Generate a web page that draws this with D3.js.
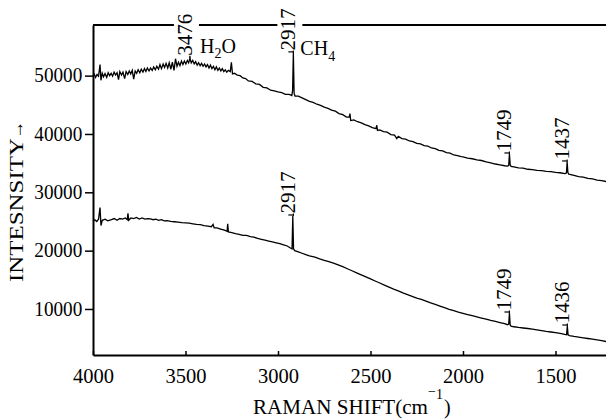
<!DOCTYPE html>
<html><head><meta charset="utf-8">
<script src="https://cdn.jsdelivr.net/npm/d3@7"></script>
<style>
html,body{margin:0;padding:0;background:#fff;}
svg{display:block;}
text{font-family:"Liberation Serif","DejaVu Serif",serif;fill:#000;}
</style>
</head><body>
<svg id="c" width="606" height="419" font-family="Liberation Serif, DejaVu Serif, serif"></svg>
<script>
const xTicks = [4000, 3500, 3000, 2500, 2000, 1500];
const yTicks = [10000, 20000, 30000, 40000, 50000];

const upper = [
[4000,49900],[3993,50250],[3986,49700],[3978,50200],[3970,49900],[3962,51900],[3957,49200],[3950,50400],[3943,49800],
[3935,50350],[3926,49700],[3918,50500],[3910,50000],[3902,50400],[3894,49900],[3886,50600],[3878,50100],[3870,50500],[3862,49300],
[3855,50700],[3846,50100],[3838,50600],[3829,49500],[3821,50700],[3812,50200],[3804,50800],[3796,50300],[3788,50900],[3780,49400],
[3772,50800],[3764,50400],[3756,51000],[3747,50500],[3739,51100],[3730,50600],[3722,51200],[3714,50700],[3706,51300],[3697,50800],
[3689,51300],[3680,50900],[3672,51500],[3663,51000],[3655,51600],[3646,51100],[3638,51900],[3630,51200],[3621,52000],[3613,51400],
[3605,52100],[3596,51300],[3588,52200],[3579,51100],[3571,52300],[3562,50900],[3554,52900],[3546,51600],[3538,52300],
[3530,51700],[3522,52500],[3514,51900],[3506,52500],[3498,52000],[3490,52600],[3483,52200],[3476,53000],[3469,52200],
[3461,52600],[3453,52000],[3445,52400],[3437,51800],[3429,52200],[3421,51700],[3413,52100],[3405,51600],[3397,52000],
[3389,51500],[3381,51900],[3373,51300],[3365,51800],[3357,51200],[3349,51600],[3341,51000],[3333,51500],[3325,50900],
[3317,51300],[3309,50800],[3301,51200],[3293,50700],[3285,51000],[3277,50600],[3268,50900],[3258,50700],[3252,52300],[3246,50300],[3235,50400],
[3220,50100],[3205,50000],[3190,49600],[3175,49500],[3160,49100],[3140,49000],[3120,48600],[3100,48500],[3080,48000],
[3060,47900],[3040,47500],[3020,47400],[3000,47200],[2980,47100],[2960,46800],[2940,46800],[2925,46600],
[2921,47500],[2917,53900],[2913,47000],[2908,46500],[2890,46500],[2870,46200],[2850,45900],[2830,45600],
[2810,45400],[2790,45100],[2770,44900],[2750,44600],[2730,44400],[2710,44100],[2690,43900],[2670,43500],
[2650,43300],[2630,42900],[2615,42900],[2611,43500],[2607,42300],[2590,42400],[2570,42100],[2550,41900],
[2530,41600],[2510,41400],[2490,41100],[2470,40900],[2466,41500],[2462,40600],[2450,40700],[2430,40400],
[2410,40300],[2390,39900],[2370,39800],[2358,39200],[2350,39600],[2330,39200],[2310,39100],[2290,38800],
[2270,38700],[2250,38400],[2230,38300],[2210,38000],[2190,37900],[2170,37600],[2150,37500],[2130,37200],
[2110,37100],[2090,36800],[2070,36700],[2050,36400],[2030,36300],[2010,36100],[2000,36090],[1975,35850],
[1950,35750],[1925,35550],[1900,35450],[1875,35200],[1850,35050],[1825,34850],[1800,34700],[1775,34550],
[1760,34500],[1753,34600],[1749,36570],[1745,34700],[1740,34450],[1725,34350],[1700,34200],[1675,34150],
[1650,33950],[1625,33900],[1600,33750],[1575,33700],[1550,33600],[1525,33550],[1500,33400],[1475,33350],
[1450,33200],[1441,33300],[1437,35200],[1433,33400],[1428,33100],[1400,32900],[1375,32700],[1350,32600],
[1325,32400],[1300,32300],[1275,32100],[1250,32000],[1227,31850]
];

const lower = [
[4000,25100],[3990,25300],[3980,25000],[3970,25400],[3962,27400],[3957,24300],[3950,25200],[3935,25400],
[3920,25100],[3900,25300],[3885,25500],[3870,25200],[3855,25500],[3840,25400],[3825,25600],[3815,25300],
[3811,26400],[3807,25200],[3795,25600],[3780,25500],[3765,25700],[3750,25400],[3735,25600],[3720,25400],
[3705,25500],[3690,25450],[3675,25300],[3660,25400],[3645,25200],[3630,25300],[3615,25100],[3600,25150],
[3580,25000],[3560,24950],[3540,24900],[3520,24800],[3500,24750],[3480,24700],[3460,24600],[3440,24500],
[3420,24450],[3400,24300],[3380,24200],[3360,24100],[3351,24500],[3345,23900],[3330,23900],[3310,23700],
[3290,23500],[3275,23300],[3272,24600],[3268,23200],[3250,23100],[3230,22900],[3210,22800],[3190,22600],
[3170,22600],[3150,22400],[3130,22300],[3110,22100],[3090,21950],[3070,21800],[3050,21650],[3030,21500],
[3010,21350],[2990,21200],[2970,21000],[2950,20800],[2935,20500],[2924,20300],[2920,25940],[2916,20300],
[2910,20000],[2890,19800],[2870,19550],[2850,19300],[2830,19100],[2800,18890],[2775,18600],[2750,18350],
[2725,18100],[2700,17860],[2675,17550],[2650,17250],[2625,16900],[2600,16550],[2575,16200],[2550,15850],
[2525,15500],[2500,15150],[2475,14800],[2450,14450],[2425,14100],[2400,13750],[2375,13400],[2350,13100],
[2325,12750],[2300,12450],[2275,12150],[2250,11850],[2225,11650],[2200,11350],[2175,11050],[2150,10780],
[2125,10500],[2100,10220],[2075,9950],[2050,9700],[2025,9450],[2000,9250],[1975,9050],[1950,8850],
[1925,8650],[1900,8450],[1875,8250],[1850,8050],[1825,7870],[1800,7680],[1775,7500],[1760,7300],
[1753,7400],[1749,9310],[1745,7250],[1740,7050],[1725,6950],[1700,6830],[1675,6740],[1650,6650],
[1625,6560],[1600,6420],[1575,6280],[1550,6150],[1525,6050],[1500,5950],[1475,5800],[1450,5650],
[1440,5600],[1436,7080],[1432,5550],[1425,5450],[1400,5290],[1375,5170],[1350,5050],[1325,4940],
[1300,4830],[1275,4700],[1250,4560],[1227,4420]
];

const upperPeaks = [3476, 2917, 1749, 1437];
const upperPeakLabels = ["3476", "2917", "1749", "1437"];
const lowerPeaks = [2917, 1749, 1436];
const lowerPeakLabels = ["2917", "1749", "1436"];

const svg = d3.select("#c");
const L = 93, R = 606, T = 25, B = 355;
const x = d3.scaleLinear().domain([4000, 1227]).range([L, R]);
const y = d3.scaleLinear().domain([2110, 58680]).range([B, T]);
const FONT = "Liberation Serif, DejaVu Serif, serif";

// top border
svg.append("line").attr("x1", L).attr("x2", R).attr("y1", T).attr("y2", T)
  .attr("stroke", "#000").attr("stroke-width", 2);

// axes
const gx = svg.append("g").attr("transform", `translate(0,${B})`)
  .call(d3.axisBottom(x).tickValues(xTicks).tickSizeInner(-4).tickSizeOuter(0).tickFormat(d3.format("d")));
gx.attr("font-family", FONT).attr("font-size", null);
gx.select(".domain").attr("stroke-width", 2);
gx.selectAll(".tick line").attr("stroke-width", 1.5);
gx.selectAll(".tick text").attr("y", 27.7).attr("dy", null)
  .style("font-size", "21px").attr("textLength", 41).attr("lengthAdjust", "spacingAndGlyphs");

const gy = svg.append("g").attr("transform", `translate(${L},0)`)
  .call(d3.axisLeft(y).tickValues(yTicks).tickSizeInner(8).tickSizeOuter(0).tickFormat(d3.format("d")));
gy.attr("font-family", FONT).attr("font-size", null);
gy.select(".domain").attr("stroke-width", 2);
gy.selectAll(".tick line").attr("stroke-width", 1.5);
gy.selectAll(".tick text").attr("x", -10.7).attr("y", 6.3).attr("dy", null)
  .style("font-size", "20px").attr("textLength", 48).attr("lengthAdjust", "spacingAndGlyphs");

svg.selectAll(".domain, .tick line").attr("stroke", "#000");

// curves
const line = d3.line().x(d => x(d[0])).y(d => y(d[1]));
const curves = svg.append("g");

function labelPeaks(series, peaks, labels, isLower) {
  peaks.forEach((w, i) => {
    const near = series.filter(d => Math.abs(d[0] - w) <= 5);
    const top = d3.max(near, d => d[1]);
    const px = x(w), py = y(top);
    const bottom = py - 2.5;
    const bx = px + 2;
    if (bottom - 42 < T + 4) {
      svg.append("rect").attr("x", bx - 18).attr("y", T - 3).attr("width", 25).attr("height", 6).attr("fill", "#fff");
    }
    svg.append("text").attr("transform", `translate(${bx},${bottom}) rotate(-90)`)
      .attr("text-anchor", "start").style("font-size", "20px")
      .attr("textLength", 42).attr("lengthAdjust", "spacingAndGlyphs").text(labels[i]);
    svg.append("line").attr("x1", px).attr("x2", px).attr("y1", bottom).attr("y2", py)
      .attr("stroke", "#000").attr("stroke-width", 1.2);
    if (i > 0 || isLower) {
      svg.append("line").attr("x1", px - 5).attr("x2", px).attr("y1", bottom + 1.5).attr("y2", bottom + 1.5)
        .attr("stroke", "#000").attr("stroke-width", 1.2);
    }
  });
}
labelPeaks(upper, upperPeaks, upperPeakLabels, false);
labelPeaks(lower, lowerPeaks, lowerPeakLabels, true);

curves.raise();
[upper, lower].forEach(s => {
  curves.append("path").datum(s).attr("d", line)
    .attr("fill", "none").attr("stroke", "#000").attr("stroke-width", 1.3).attr("stroke-linejoin", "miter");
});

// species labels
const h2o = svg.append("text").attr("x", x(3476) + 10).attr("y", 53).style("font-size", "20px");
h2o.append("tspan").text("H");
h2o.append("tspan").attr("dy", 5).style("font-size", "14px").text("2");
h2o.append("tspan").attr("dy", -5).text("O");
const ch4 = svg.append("text").attr("x", x(2917) + 7).attr("y", 55).style("font-size", "20px");
ch4.append("tspan").text("CH");
ch4.append("tspan").attr("dy", 6).style("font-size", "14px").text("4");

// axis titles
svg.append("text").attr("x", 253).attr("y", 414).style("font-size", "20px")
  .attr("textLength", 175).attr("lengthAdjust", "spacingAndGlyphs").text("RAMAN SHIFT(cm");
svg.append("text").attr("x", 428).attr("y", 396).style("font-size", "14px").text("\u2212");
svg.append("text").attr("x", 436).attr("y", 399).style("font-size", "14px").text("1");
svg.append("text").attr("x", 444).attr("y", 414).style("font-size", "20px").text(")");

svg.append("text").attr("transform", "translate(23,282) rotate(-90)").style("font-size", "18px")
  .attr("textLength", 144).attr("lengthAdjust", "spacingAndGlyphs").text("INTESNSITY");
svg.append("text").attr("transform", "translate(23,139) rotate(-90)").style("font-size", "18px")
  .attr("textLength", 18).attr("lengthAdjust", "spacingAndGlyphs").text("\u2192");
</script>
</body></html>
